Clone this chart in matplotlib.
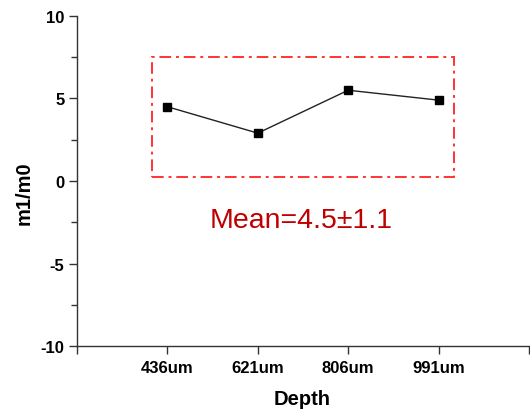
import matplotlib.pyplot as plt
import numpy as np

# m1/m0 ratio at each depth
depths = ['436um', '621um', '806um', '991um']
ratios = [4.5, 2.9, 5.5, 4.9]
mean_label = 'Mean=4.5\u00b11.1'

plt.rcParams['font.family'] = ['Liberation Sans', 'DejaVu Sans']
plt.rcParams['axes.unicode_minus'] = False

fig = plt.figure(figsize=(5.3, 4.14), dpi=100)
ax = fig.add_axes([0.1453, 0.1618, 0.8527, 0.7972])

xpos = np.arange(1, len(depths) + 1)
ax.plot(xpos, ratios, color='#222222', linewidth=1.0, marker='s',
        markersize=6, markerfacecolor='black', markeredgecolor='black')

# dash-dot frame around the data points
ax.add_patch(plt.Rectangle((0.83, 0.25), 3.34, 7.27, fill=False,
                           edgecolor='#ff3333', linewidth=1.4,
                           linestyle=(0, (6, 2.5, 1.5, 2.5))))
ax.text(2.48, -2.35, mean_label, color='#c00000', fontsize=20.5,
        ha='center', va='center')

ax.set_xlim(0, len(depths) + 1)
ax.set_ylim(-10, 10)
ax.set_xticks(np.arange(0, len(depths) + 2))
ax.set_xticklabels([''] + depths + [''])
ax.set_yticks([-10, -5, 0, 5, 10])
ax.set_yticks([-7.5, -2.5, 2.5, 7.5], minor=True)

for side in ['top', 'right']:
    ax.spines[side].set_visible(False)
for side in ['left', 'bottom']:
    ax.spines[side].set_color('#333333')
    ax.spines[side].set_linewidth(1.0)

ax.tick_params(axis='both', which='major', direction='out', length=6,
               width=1.0, color='#333333', labelsize=12)
ax.tick_params(axis='x', which='major', pad=4)
ax.tick_params(axis='y', which='major', pad=3)
ax.tick_params(axis='y', which='minor', direction='out', length=4,
               width=1.0, color='#333333')
for lbl in ax.get_xticklabels() + ax.get_yticklabels():
    lbl.set_fontweight('bold')

ax.set_xlabel('Depth', fontsize=14.5, fontweight='bold')
ax.set_ylabel('m1/m0', fontsize=14.5, fontweight='bold')
ax.xaxis.set_label_coords(0.498, -0.13)
ax.yaxis.set_label_coords(-0.097, 0.467)

fig.savefig('out.png', dpi=100)
